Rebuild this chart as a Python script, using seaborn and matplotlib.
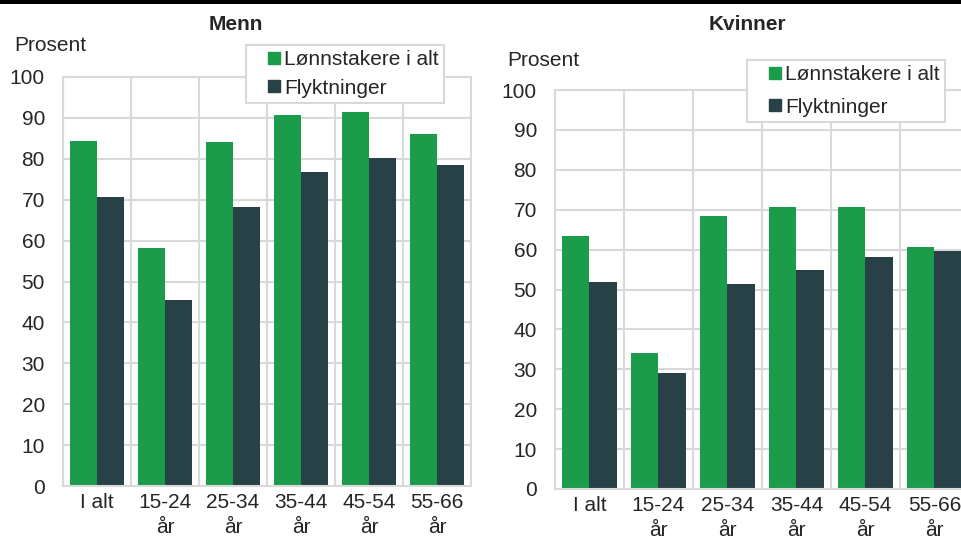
import matplotlib
matplotlib.use('Agg')
import matplotlib.pyplot as plt
import seaborn as sns
import pandas as pd
import numpy as np
from matplotlib.lines import Line2D
from matplotlib.patches import Rectangle

# Data lest av figuren
kategorier = ["I alt", "15-24\når", "25-34\når", "35-44\når", "45-54\når", "55-66\når"]
serier = ["Lønnstakere i alt", "Flyktninger"]
menn_lonn = [84.4, 58.3, 84.2, 90.6, 91.4, 86.1]
menn_flykt = [70.6, 45.5, 68.1, 76.7, 80.1, 78.6]
kvinner_lonn = [63.3, 34.1, 68.3, 70.7, 70.6, 60.7]
kvinner_flykt = [52.0, 29.1, 51.5, 54.9, 58.2, 59.7]

farger = ["#1b9c4a", "#274147"]
grid_farge = "#d9d9d9"
tekst_farge = "#262626"

sns.set_style("white")
plt.rcParams['font.family'] = ['Liberation Sans', 'DejaVu Sans']
plt.rcParams['font.size'] = 15


def lag_df(lonn, flykt):
    return pd.DataFrame({
        "kategori": kategorier * 2,
        "serie": [serier[0]] * len(kategorier) + [serier[1]] * len(kategorier),
        "verdi": lonn + flykt,
    })


def tegn_panel(ax, df, labelspacing, legend_anchor):
    sns.barplot(data=df, x="kategori", y="verdi", hue="serie", palette=farger,
                width=0.8, ax=ax, saturation=1, edgecolor="none")
    ax.set_axisbelow(True)
    ax.set_ylim(0, 100)
    ax.set_xlim(-0.5, 5.5)
    ax.set_yticks(np.arange(0, 101, 10))
    ax.set_xticks(np.arange(-0.5, 6, 1), minor=True)
    ax.grid(axis="y", which="major", color=grid_farge, linewidth=1.5)
    ax.grid(axis="x", which="minor", color=grid_farge, linewidth=1.5)
    ax.tick_params(axis="both", which="both", length=0, colors=tekst_farge, labelsize=15)
    ax.tick_params(axis="y", pad=13)
    ax.tick_params(axis="x", pad=5)
    for lbl in ax.get_xticklabels():
        lbl.set_linespacing(1.4)
    for sp in ax.spines.values():
        sp.set_color(grid_farge)
        sp.set_linewidth(1.5)
    ax.set_xlabel("")
    ax.set_ylabel("")
    ax.get_legend().remove()
    handles = [Line2D([], [], marker="s", linestyle="none", markersize=8,
                      markerfacecolor=c, markeredgecolor=c) for c in farger]
    leg = ax.legend(handles, serier, loc="upper left", bbox_to_anchor=legend_anchor,
                    bbox_transform=ax.figure.transFigure, borderaxespad=0,
                    frameon=True, fancybox=False, framealpha=1, borderpad=0.25,
                    handlelength=2.2, handletextpad=-0.62, labelspacing=labelspacing,
                    fontsize=15)
    leg.get_frame().set_edgecolor(grid_farge)
    leg.get_frame().set_linewidth(1.5)
    for t in leg.get_texts():
        t.set_color(tekst_farge)


fig = plt.figure(figsize=(9.62, 5.38), dpi=100)
W, H = 962, 538

ax1 = fig.add_axes([63 / W, 1 - 486 / H, 408 / W, 409 / H])
tegn_panel(ax1, lag_df(menn_lonn, menn_flykt), 0.45, (246 / W, 1 - 45 / H))

ax2 = fig.add_axes([555 / W, 1 - 489 / H, 414 / W, 399 / H])
tegn_panel(ax2, lag_df(kvinner_lonn, kvinner_flykt), 0.65, (747 / W, 1 - 60 / H))

# Titler og aksetekster
fig.text(236 / W, 1 - 25 / H, "Menn", ha="center", va="center",
         fontsize=15, fontweight="bold", color=tekst_farge)
fig.text(747 / W, 1 - 25 / H, "Kvinner", ha="center", va="center",
         fontsize=15, fontweight="bold", color=tekst_farge)
fig.text(14 / W, 1 - 46 / H, "Prosent", ha="left", va="center", fontsize=15, color=tekst_farge)
fig.text(507 / W, 1 - 61 / H, "Prosent", ha="left", va="center", fontsize=15, color=tekst_farge)

# Svart strek øverst
fig.add_artist(Rectangle((0, 1 - 4 / H), 1, 4 / H, transform=fig.transFigure,
                         facecolor="black", edgecolor="none"))

fig.savefig("out.png", dpi=100)
